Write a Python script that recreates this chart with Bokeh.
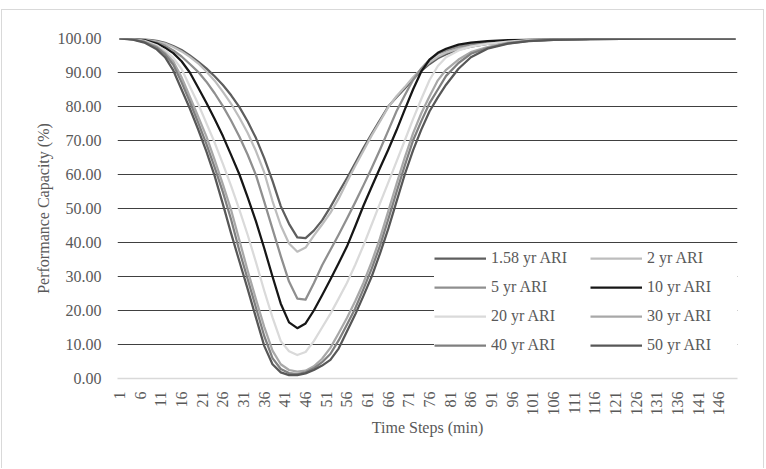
import math
from bokeh.plotting import figure
from bokeh.models import (FixedTicker, PrintfTickFormatter, Legend, LegendItem,
                          Range1d)
from bokeh.embed import file_html
from bokeh.resources import INLINE

# ---------------- data ----------------
steps = [1, 4, 7, 10, 12, 14, 16, 18, 20, 22, 24, 26, 28, 30, 32, 34, 36, 38, 40,
         42, 44, 46, 48, 50, 52, 54, 56, 58, 60, 62, 64, 66, 68, 70, 72, 74, 76,
         78, 80, 83, 86, 90, 95, 100, 106, 115, 130, 150]

ari_158 = [100, 99.95, 99.8, 99.3, 98.7, 97.8, 96.6, 95.0, 93.2, 91.2, 88.9, 86.3,
           83.3, 79.8, 75.6, 70.7, 64.8, 58.1, 50.7, 45.5, 41.5, 41.3, 43.5, 46.5,
           50.4, 54.7, 58.9, 63.3, 67.8, 72.0, 76.0, 80.0, 82.7, 85.3, 88.0, 90.5,
           92.5, 94.2, 95.4, 96.7, 97.6, 98.4, 99.0, 99.4, 99.7, 99.9, 99.97, 100]
ari_2 = [100, 99.95, 99.7, 99.1, 98.5, 97.5, 96.2, 94.6, 92.7, 90.3, 87.6, 84.3,
         80.8, 76.7, 72.2, 66.9, 60.6, 52.2, 45.0, 39.7, 37.3, 38.5, 42.0, 45.3,
         48.7, 52.9, 57.8, 62.5, 67.0, 71.5, 75.6, 79.8, 83.0, 85.7, 88.6, 91.0,
         93.0, 94.6, 95.8, 97.0, 97.9, 98.6, 99.2, 99.5, 99.7, 99.9, 99.97, 100]
ari_5 = [100, 99.9, 99.6, 98.8, 97.9, 96.5, 94.7, 92.5, 90.2, 87.3, 83.9, 80.1,
         75.8, 71.1, 65.8, 59.8, 52.0, 44.0, 36.0, 28.5, 23.5, 23.2, 28.0, 33.3,
         37.8, 42.3, 47.0, 51.8, 56.8, 61.9, 67.3, 72.9, 78.6, 83.3, 87.8, 91.2,
         93.8, 95.5, 96.5, 97.6, 98.3, 98.9, 99.3, 99.6, 99.75, 99.9, 99.97, 100]
ari_10 = [100, 99.9, 99.5, 98.5, 97.3, 95.7, 93.3, 90.0, 85.6, 81.1, 76.3, 71.3,
          65.7, 60.0, 53.3, 46.2, 38.3, 30.0, 22.0, 16.5, 14.8, 16.2, 20.0, 24.5,
          29.1, 33.9, 38.8, 44.7, 50.8, 56.4, 61.9, 67.3, 73.0, 79.1, 85.0, 90.3,
          93.8, 95.8, 97.0, 98.2, 98.8, 99.2, 99.5, 99.7, 99.8, 99.9, 99.97, 100]
ari_20 = [100, 99.85, 99.3, 98.0, 96.5, 94.3, 91.0, 85.9, 80.8, 75.1, 69.4, 63.1,
          56.6, 49.6, 42.2, 34.2, 25.8, 18.0, 11.0, 8.0, 6.9, 7.8, 11.0, 15.0,
          19.0, 23.5, 28.1, 33.4, 39.1, 45.3, 51.5, 57.6, 63.8, 70.0, 76.3, 82.2,
          87.8, 91.9, 94.5, 96.5, 97.6, 98.4, 99.1, 99.5, 99.7, 99.9, 99.97, 100]
ari_30 = [100, 99.8, 99.1, 97.6, 95.8, 93.2, 88.6, 82.9, 77.1, 71.2, 64.3, 57.1,
          49.5, 40.6, 31.7, 23.3, 15.2, 8.2, 4.2, 2.5, 2.0, 2.3, 3.6, 5.8,
          9.0, 13.3, 17.8, 22.7, 28.1, 34.3, 41.2, 49.2, 57.2, 65.0, 72.1, 78.0,
          83.0, 87.7, 90.8, 93.8, 96.0, 97.5, 98.8, 99.35, 99.65, 99.85, 99.95, 100]
ari_40 = [100, 99.8, 99.0, 97.3, 95.3, 92.3, 87.1, 81.4, 75.3, 69.0, 62.1, 54.8,
          46.7, 37.5, 29.2, 20.8, 12.5, 6.0, 2.8, 1.6, 1.3, 1.8, 3.0, 4.8,
          7.2, 11.2, 15.8, 20.6, 26.3, 32.3, 39.0, 46.8, 54.8, 62.6, 70.0, 75.7,
          81.0, 85.0, 89.0, 92.8, 95.5, 97.2, 98.6, 99.3, 99.6, 99.85, 99.95, 100]
ari_50 = [100, 99.7, 98.8, 96.8, 94.5, 90.6, 85.0, 79.4, 73.3, 66.8, 59.6, 51.3,
          42.6, 34.4, 26.3, 17.9, 9.6, 4.2, 1.8, 1.0, 1.0, 1.5, 2.5, 3.8,
          5.5, 8.8, 13.8, 18.8, 24.3, 30.0, 36.7, 44.0, 52.0, 60.0, 67.1, 73.2,
          78.6, 82.7, 86.4, 91.1, 94.5, 97.0, 98.5, 99.2, 99.6, 99.85, 99.95, 100]

series_labels = ["1.58 yr ARI", "2 yr ARI", "5 yr ARI", "10 yr ARI",
                 "20 yr ARI", "30 yr ARI", "40 yr ARI", "50 yr ARI"]
series_values = [ari_158, ari_2, ari_5, ari_10, ari_20, ari_30, ari_40, ari_50]
series_colors = ["#5e5e5e", "#bdbdbd", "#8f8f8f", "#161616",
                 "#dadada", "#a8a8a8", "#7f7f7f", "#575757"]

x_ticks = list(range(1, 147, 5))
y_ticks = [0, 10, 20, 30, 40, 50, 60, 70, 80, 90, 100]

for v in series_values:
    assert len(v) == len(steps)

FONT = "Liberation Serif"
TXT = "#595959"

# canvas spans x 2..764, y 10..469 ; light-grey chart border drawn by CSS
p = figure(width=763, height=459, output_backend="svg", toolbar_location=None,
           x_range=Range1d(0.5, 150.5), y_range=Range1d(0, 100),
           min_border_left=115, min_border_right=28, min_border_top=28,
           min_border_bottom=91)
p.margin = (9, 0, 0, 1)
p.styles = {"border-top": "1px solid #d9d9d9", "border-left": "1px solid #d9d9d9",
            "border-right": "1px solid #d9d9d9"}
p.outline_line_color = None
p.background_fill_color = "white"
p.border_fill_color = "white"

# grid
p.xgrid.visible = False
p.ygrid.ticker = FixedTicker(ticks=y_ticks[1:])
p.ygrid.grid_line_color = "#404040"
p.ygrid.grid_line_width = 1

# axes
p.yaxis.ticker = FixedTicker(ticks=y_ticks)
p.yaxis.formatter = PrintfTickFormatter(format="%.2f")
p.yaxis.axis_line_color = None
p.yaxis.major_tick_line_color = None
p.yaxis.minor_tick_line_color = None
p.yaxis.major_label_standoff = 10
p.yaxis.axis_label = "Performance Capacity (%)"
p.yaxis.axis_label_standoff = 3

p.xaxis.ticker = FixedTicker(ticks=x_ticks)
p.xaxis.axis_line_color = "#d9d9d9"
p.xaxis.axis_line_width = 1.5
p.xaxis.major_tick_line_color = None
p.xaxis.minor_tick_line_color = None
p.xaxis.major_label_orientation = math.pi / 2
p.xaxis.major_label_standoff = 7
p.xaxis.axis_label = "Time Steps (min)"
p.xaxis.axis_label_standoff = 0

for ax in (p.xaxis[0], p.yaxis[0]):
    ax.major_label_text_font = FONT
    ax.major_label_text_font_size = "16px"
    ax.major_label_text_color = TXT
    ax.axis_label_text_font = FONT
    ax.axis_label_text_font_size = "16px"
    ax.axis_label_text_font_style = "normal"
    ax.axis_label_text_color = TXT

renderers = []
for lbl, vals, col in zip(series_labels, series_values, series_colors):
    r = p.line(steps, vals, line_color=col, line_width=2.25, line_join="round")
    renderers.append(r)

items = [LegendItem(label=l, renderers=[r]) for l, r in zip(series_labels, renderers)]
legend = Legend(items=items, ncols=2, orientation="horizontal",
                location=(317, 21), glyph_width=52, glyph_height=24,
                label_standoff=5, label_width=94, spacing=5, padding=8,
                background_fill_color="white", background_fill_alpha=1.0,
                border_line_color=None,
                label_text_font=FONT, label_text_font_size="16px",
                label_text_color=TXT)
p.add_layout(legend)

open("out.html", "w").write(file_html(p, INLINE))
